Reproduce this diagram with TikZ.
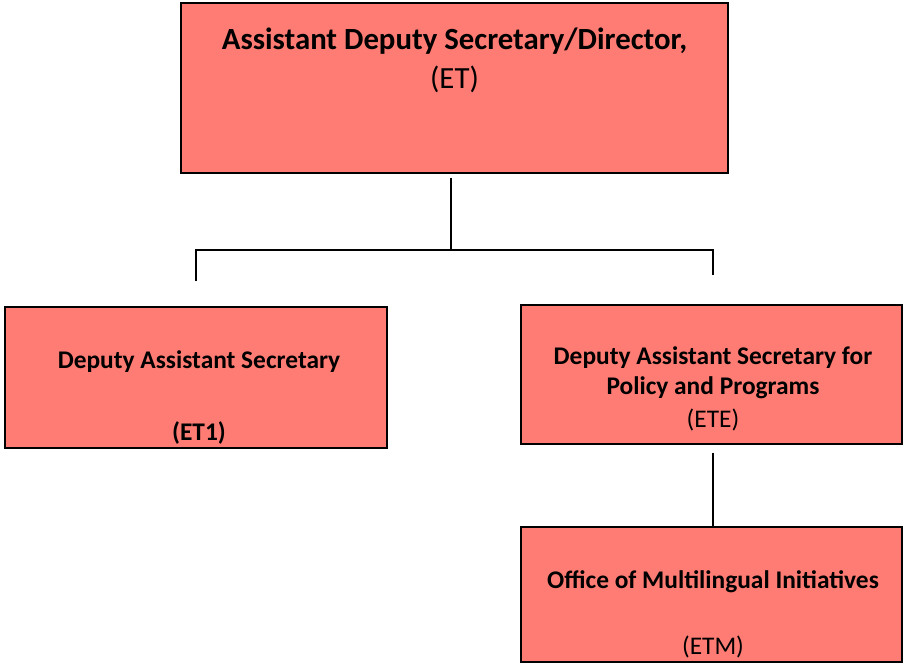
\documentclass[tikz,border=0pt]{standalone}
\usepackage{fontspec}
\setmainfont{Carlito}
\usepackage{tikz}

\definecolor{boxfill}{RGB}{255,124,116}

\begin{document}
\begin{tikzpicture}[x=1pt,y=-1pt,
    box/.style={draw=black,fill=boxfill,line width=2pt,inner sep=0pt},
    big/.style={inner sep=0pt,font=\fontsize{30.8}{36}\selectfont},
    txt/.style={inner sep=0pt,font=\fontsize{25.4}{30}\selectfont},
    conn/.style={line width=2pt}]
      \useasboundingbox (0,0) rectangle (903,664);
      % boxes
      \node[box,minimum width=547pt,minimum height=170pt] (top) at (454.5,88) {};
      \node[box,minimum width=382pt,minimum height=141pt] (dep) at (196,377.5) {};
      \node[box,minimum width=381pt,minimum height=139pt] (pol) at (711.5,374) {};
      \node[box,minimum width=381pt,minimum height=135pt] (oml) at (711.5,594.5) {};
      % texts
      \node[big,font=\fontsize{30.8}{36}\selectfont\bfseries] (topname) at (454.5,41) {Assistant Deputy Secretary/Director,};
      \node[big] (topcode) at (454.5,79) {(ET)};
      \node[txt,font=\fontsize{25.4}{30}\selectfont\bfseries] (depname) at (199,362) {Deputy Assistant Secretary};
      \node[txt,font=\fontsize{25.4}{30}\selectfont\bfseries] (depcode) at (199,433) {(ET1)};
      \node[txt,font=\fontsize{25.4}{30}\selectfont\bfseries] (polname) at (713,358) {Deputy Assistant Secretary for};
      \node[txt,font=\fontsize{25.4}{30}\selectfont\bfseries] (polname2) at (713,388) {Policy and Programs};
      \node[txt] (polcode) at (713,420) {(ETE)};
      \node[txt,font=\fontsize{25.4}{30}\selectfont\bfseries] (omlname) at (713,582) {Office of Multilingual Initiatives};
      \node[txt] (omlcode) at (713,647) {(ETM)};
      % connectors
      \coordinate (busM) at (451,250);
      \coordinate (busL) at (196,250);
      \coordinate (busR) at (713,250);
      \coordinate (dropL) at (196,281);
      \coordinate (dropR) at (713,275);
      \draw[conn,shorten <=4pt] (top.south -| busM) -- (busM);
      \draw[conn] (dropL) -- (busL) -- (busR) -- (dropR);
      \draw[conn,shorten <=8pt] (pol.south -| busR) -- (oml.north -| busR);
    \end{tikzpicture}
\end{document}
